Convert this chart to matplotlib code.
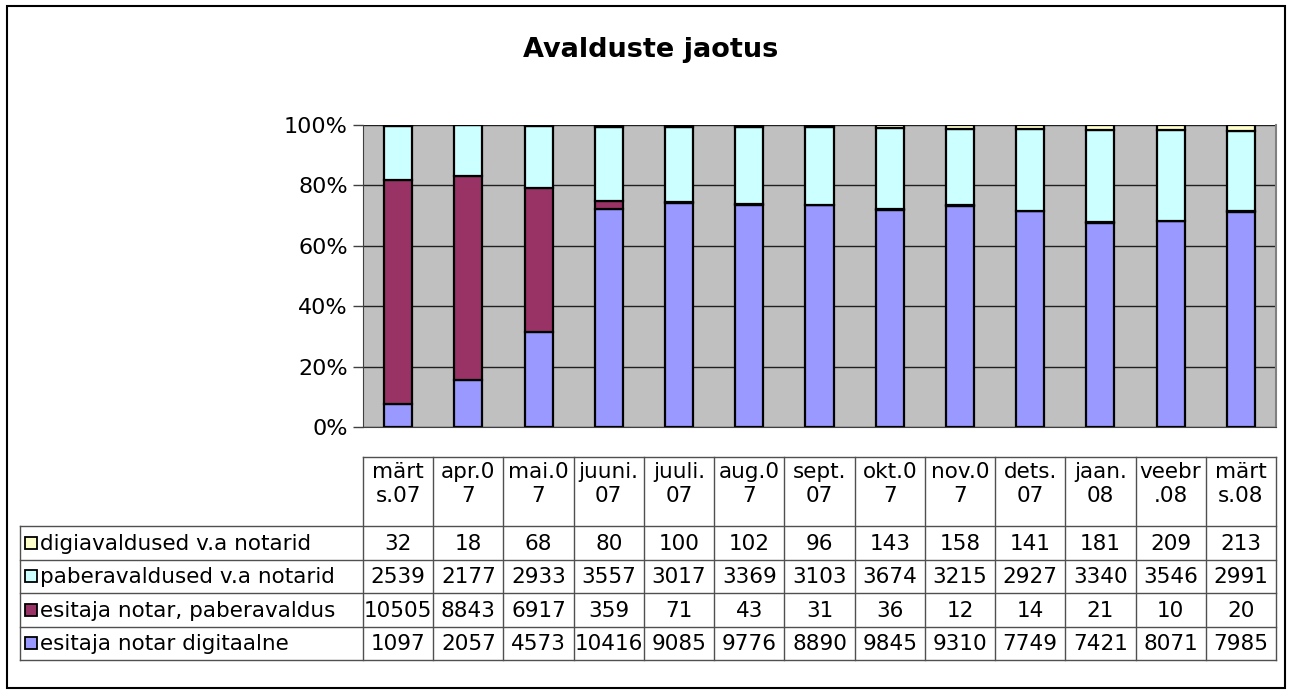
import matplotlib
matplotlib.use("Agg")
import matplotlib.pyplot as plt
import numpy as np
from matplotlib.patches import Rectangle
from matplotlib.lines import Line2D

plt.rcParams['font.family'] = ['DejaVu Sans']

categories = ["märt\ns.07", "apr.0\n7", "mai.0\n7", "juuni.\n07", "juuli.\n07", "aug.0\n7",
              "sept.\n07", "okt.0\n7", "nov.0\n7", "dets.\n07", "jaan.\n08", "veebr\n.08", "märt\ns.08"]
series_names = ["digiavaldused v.a notarid", "paberavaldused v.a notarid",
                "esitaja notar, paberavaldus", "esitaja notar digitaalne"]
digi_va = [32, 18, 68, 80, 100, 102, 96, 143, 158, 141, 181, 209, 213]
paber_va = [2539, 2177, 2933, 3557, 3017, 3369, 3103, 3674, 3215, 2927, 3340, 3546, 2991]
notar_paber = [10505, 8843, 6917, 359, 71, 43, 31, 36, 12, 14, 21, 10, 20]
notar_digi = [1097, 2057, 4573, 10416, 9085, 9776, 8890, 9845, 9310, 7749, 7421, 8071, 7985]
colors = ["#FFFFCC", "#CCFFFF", "#993366", "#9999FF"]
ytick_labels = ["0%", "20%", "40%", "60%", "80%", "100%"]
title = "Avalduste jaotus"

W, H = 1296, 694
fig = plt.figure(figsize=(W / 100, H / 100), dpi=100)

def fx(px):
    return px / W

def fy(py):
    return 1 - py / H

# outer border
fig.add_artist(Rectangle((fx(7), fy(688)), fx(1285) - fx(7), fy(6) - fy(688),
                         transform=fig.transFigure, fill=False, edgecolor="black", linewidth=1.5))

fig.text(fx(651), fy(50), title, ha="center", va="center", fontsize=19.5, fontweight="bold")

# plot area
pl, pr, pt, pb = 363, 1276, 125, 427
ax = fig.add_axes([fx(pl), fy(pb), fx(pr) - fx(pl), fy(pt) - fy(pb)])
ax.set_facecolor("#C0C0C0")
n = len(categories)
x = np.arange(n)
data = np.array([notar_digi, notar_paber, paber_va, digi_va], dtype=float)
totals = data.sum(axis=0)
frac = data / totals * 100
order_colors = [colors[3], colors[2], colors[1], colors[0]]
bottom = np.zeros(n)
for i in range(4):
    ax.bar(x, frac[i], 0.4, bottom=bottom, color=order_colors[i], edgecolor="black",
           linewidth=1.6, zorder=3)
    bottom += frac[i]
ax.set_xlim(-0.5, n - 0.5)
ax.set_ylim(0, 100)
ax.set_yticks([0, 20, 40, 60, 80, 100])
ax.set_yticklabels(ytick_labels, fontsize=16)
ax.set_xticks([])
ax.yaxis.grid(True, color="#202020", linewidth=1.0, zorder=1)
ax.set_axisbelow(True)
ax.tick_params(axis="y", length=7, width=1, color="#404040", pad=4)
ax.spines["top"].set_visible(False)
ax.spines["left"].set_color("#404040")
ax.spines["bottom"].set_color("#404040")
ax.spines["right"].set_color("#808080")
ax.spines["right"].set_linewidth(1.5)

# data table
tl, tr = 20, 1276
ht, hb = 457, 526
tb = 660
tab = fig.add_axes([0, 0, 1, 1], facecolor="none")
tab.set_xlim(0, W)
tab.set_ylim(H, 0)
tab.axis("off")
colw = (pr - pl) / n
lc = "#505050"
tab.add_line(Line2D([pl, tr], [ht, ht], color=lc, lw=1))
for j in range(n + 1):
    xx = pl + j * colw
    tab.add_line(Line2D([xx, xx], [ht, tb], color=lc, lw=1))
for j, c in enumerate(categories):
    tab.text(pl + (j + 0.5) * colw, 484, c, ha="center", va="center",
             fontsize=15.5, linespacing=1.3)
rowh = (tb - hb) / 4
rows = [digi_va, paber_va, notar_paber, notar_digi]
for r in range(5):
    yy = hb + r * rowh
    tab.add_line(Line2D([tl, tr], [yy, yy], color=lc, lw=1))
tab.add_line(Line2D([tl, tl], [hb, tb], color=lc, lw=1))
for r in range(4):
    yc = hb + (r + 0.5) * rowh
    tab.add_patch(Rectangle((25, yc - 6), 12, 12, facecolor=colors[r], edgecolor="black", lw=1.3))
    tab.text(40, yc + 1, series_names[r], ha="left", va="center", fontsize=15.5)
    for j in range(n):
        tab.text(pl + (j + 0.5) * colw, yc + 1, str(rows[r][j]), ha="center", va="center",
                 fontsize=15.5)

fig.savefig("out.png", dpi=100)
